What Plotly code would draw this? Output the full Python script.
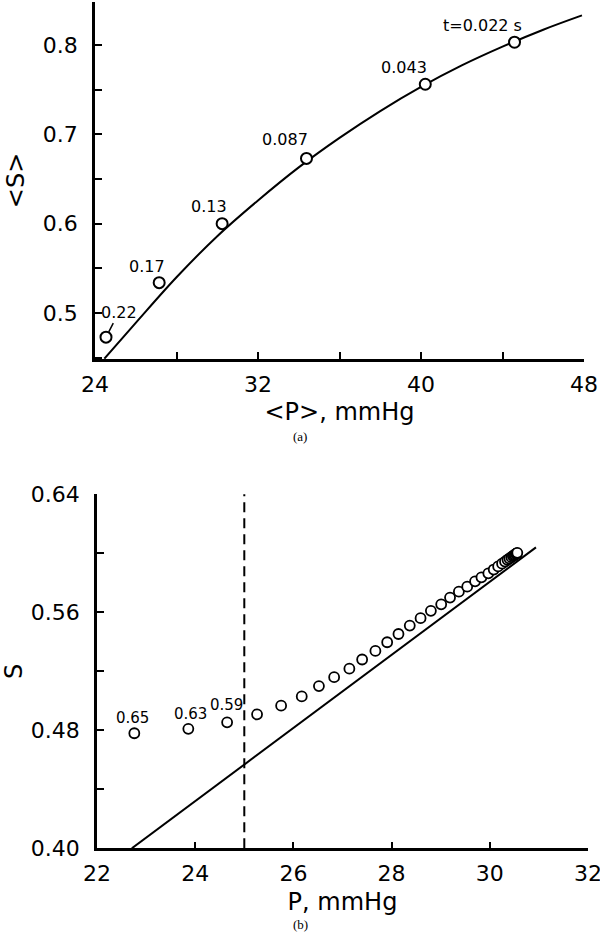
import plotly.graph_objects as go

# ---------- panel (a) data ----------
a_p = [24.54, 27.15, 30.24, 34.38, 40.21, 44.59]
a_s = [0.473, 0.534, 0.600, 0.673, 0.756, 0.803]
a_labels = ["0.22", "0.17", "0.13", "0.087", "0.043", "t=0.022 s"]

a_curve_p = [24.46, 26, 28, 30, 32, 34, 36, 38, 40, 42, 44, 46, 47.9]
a_curve_s = [0.449, 0.489, 0.540, 0.586, 0.626, 0.663, 0.696, 0.726, 0.753, 0.777, 0.798, 0.817, 0.833]

# ---------- panel (b) data ----------
b_p = [22.76, 23.86, 24.65, 25.26, 25.75, 26.17, 26.52, 26.83, 27.14, 27.40, 27.67,
       27.91, 28.14, 28.37, 28.59, 28.80, 29.01, 29.19, 29.37, 29.54, 29.70, 29.83,
       29.97, 30.08, 30.17, 30.25, 30.31, 30.36, 30.40, 30.44, 30.47, 30.49, 30.51,
       30.53, 30.54, 30.55, 30.56]
b_s = [0.478, 0.481, 0.4854, 0.4908, 0.4967, 0.503, 0.510, 0.516, 0.5218, 0.528, 0.5338,
       0.5397, 0.5453, 0.551, 0.556, 0.561, 0.5654, 0.570, 0.574, 0.5774, 0.581, 0.5837,
       0.5864, 0.589, 0.5911, 0.593, 0.5944, 0.5956, 0.5965, 0.5974, 0.5981, 0.5986, 0.5991,
       0.5996, 0.5998, 0.600, 0.6003]
b_labels = ["0.65", "0.63", "0.59"]

b_line_p = [22.71, 30.94]
b_line_s = [0.400, 0.604]
b_threshold_p = 25.0

FONT = "DejaVu Sans, Liberation Sans, sans-serif"
SERIF = "Liberation Serif, Times New Roman, serif"

fig = go.Figure()

# panel (a)
fig.add_trace(go.Scatter(x=a_curve_p, y=a_curve_s, mode="lines", line=dict(color="black", width=2, shape="spline"),
                         xaxis="x", yaxis="y", showlegend=False, hoverinfo="skip"))
fig.add_trace(go.Scatter(x=a_p, y=a_s, mode="markers",
                         marker=dict(symbol="circle", size=11, color="white", line=dict(color="black", width=2)),
                         xaxis="x", yaxis="y", showlegend=False))

# panel (b)
fig.add_trace(go.Scatter(x=b_line_p, y=b_line_s, mode="lines", line=dict(color="black", width=2),
                         xaxis="x2", yaxis="y2", showlegend=False, hoverinfo="skip"))
fig.add_trace(go.Scatter(x=b_p, y=b_s, mode="markers",
                         marker=dict(symbol="circle", size=10, color="white", line=dict(color="black", width=1.8)),
                         xaxis="x2", yaxis="y2", showlegend=False))

axis_common = dict(showline=True, linecolor="black", linewidth=2.5, mirror=False, showgrid=False,
                   zeroline=False, ticks="inside", ticklen=7, tickwidth=2, tickcolor="black",
                   automargin=False, ticklabeloverflow="allow",
                   tickfont=dict(family=FONT, size=22, color="black"))
title_font = dict(family=FONT, size=24, color="black")
minor_common = dict(ticks="inside", ticklen=7, tickwidth=2, tickcolor="black")

fig.update_layout(
    width=600, height=944,
    margin=dict(l=0, r=0, t=0, b=0, autoexpand=False),
    paper_bgcolor="white", plot_bgcolor="white",
    xaxis=dict(axis_common, domain=[95/600, 584/600], range=[24, 48], tick0=24, dtick=8,
               minor=dict(minor_common, dtick=4),
               anchor="y", ticklabelstandoff=4,
               title=dict(text="&lt;P&gt;, mmHg", font=title_font, standoff=8)),
    yaxis=dict(axis_common, domain=[1-359/944, 1-2/944], range=[0.4486, 0.848], tick0=0.5, dtick=0.1,
               tickformat=".1f",
               minor=dict(minor_common, dtick=0.05),
               anchor="x", ticklabelstandoff=10,
               title=dict(text="&lt;S&gt;", font=title_font, standoff=12)),
    xaxis2=dict(axis_common, domain=[97/600, 588/600], range=[22, 32], tick0=22, dtick=2,
                anchor="y2", ticklabelstandoff=4,
                title=dict(text="P, mmHg", font=title_font, standoff=8)),
    yaxis2=dict(axis_common, domain=[1-848.3/944, 1-494.3/944], range=[0.40, 0.64], tick0=0.40, dtick=0.08,
                tickformat=".2f",
                minor=dict(minor_common, dtick=0.04),
                anchor="x2", ticklabelstandoff=10,
                title=dict(text="S", font=title_font, standoff=18)),
)

# dashed threshold line in panel (b)
fig.add_shape(type="line", xref="x2", yref="y2 domain", x0=b_threshold_p, x1=b_threshold_p, y0=0, y1=1,
              line=dict(color="black", width=2, dash="10px,6px"))

# point labels panel (a)
a_shifts = [(13, 25), (-12, 16), (-13, 17), (-21, 19), (-21, 17), (-32, 17)]
for i, (px, ps, lab) in enumerate(zip(a_p, a_s, a_labels)):
    dx, dy = a_shifts[i]
    if i == 0:
        fig.add_annotation(x=px, y=ps, xref="x", yref="y", text=lab, showarrow=True, arrowhead=0,
                           arrowwidth=1.5, arrowcolor="black", ax=dx, ay=-dy, standoff=6,
                           font=dict(family=FONT, size=16, color="black"))
    else:
        fig.add_annotation(x=px, y=ps, xref="x", yref="y", text=lab, showarrow=False,
                           xshift=dx, yshift=dy, font=dict(family=FONT, size=16, color="black"))

# point labels panel (b)
b_shifts = [(-2, 15), (2, 15), (-1, 17)]
for i, lab in enumerate(b_labels):
    dx, dy = b_shifts[i]
    fig.add_annotation(x=b_p[i], y=b_s[i], xref="x2", yref="y2", text=lab, showarrow=False,
                       xshift=dx, yshift=dy, font=dict(family=FONT, size=15, color="black"))

# panel captions
fig.add_annotation(x=300/600, y=1-437/944, xref="paper", yref="paper", text="(a)", showarrow=False,
                   font=dict(family=SERIF, size=13, color="black"))
fig.add_annotation(x=300/600, y=1-934/944, xref="paper", yref="paper", text="(b)", showarrow=False,
                   font=dict(family=SERIF, size=13, color="black"))

fig.write_html("out.html", config={"displayModeBar": False},
               post_script="document.body.style.margin='0';document.body.style.overflow='hidden';")
